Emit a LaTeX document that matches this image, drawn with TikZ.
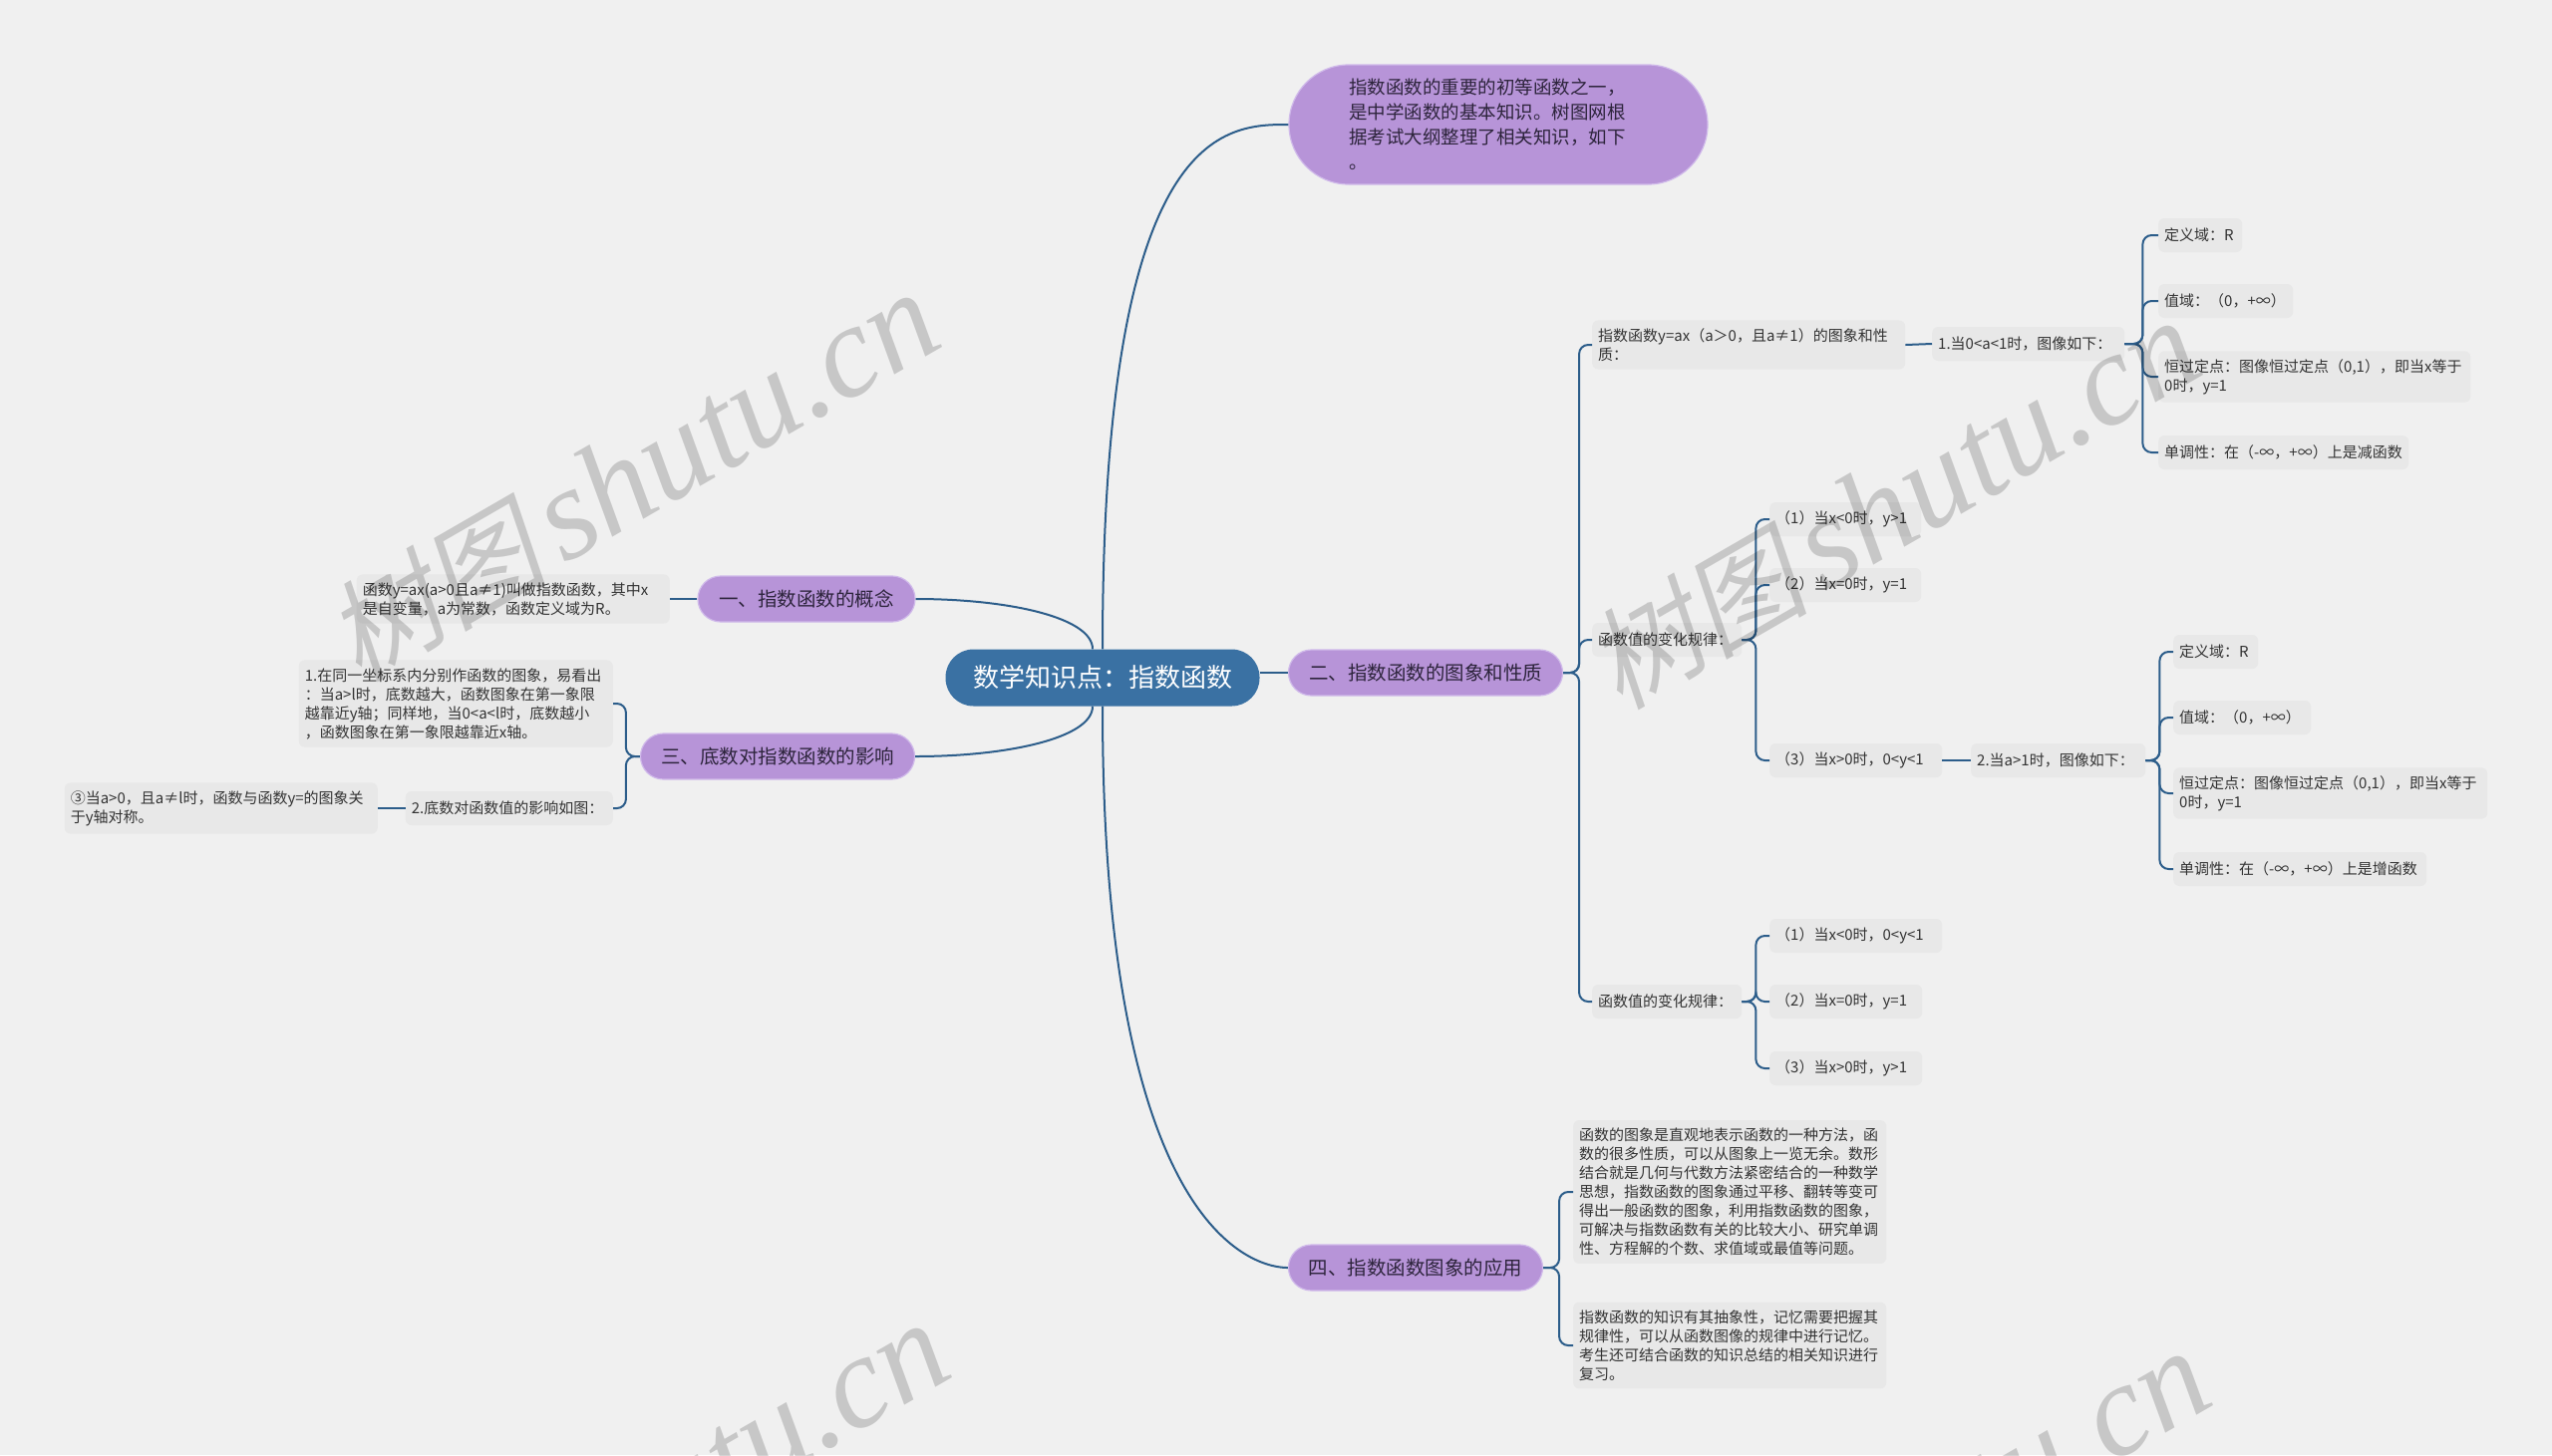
\documentclass[tikz,border=0pt]{standalone}
\usepackage{fontspec}
\setmainfont{Noto Sans CJK SC}
\newfontfamily\wmcjk[FakeSlant=0.2]{Noto Sans CJK SC}
\newfontfamily\wmlat{Liberation Serif}
\usetikzlibrary{positioning}
\definecolor{bggray}{RGB}{240,240,240}
\definecolor{leafgray}{RGB}{232,232,232}
\definecolor{linkblue}{RGB}{44,93,138}
\definecolor{rootblue}{RGB}{58,113,163}
\definecolor{topicpurple}{RGB}{183,148,216}
\definecolor{topicedge}{RGB}{208,186,234}
\definecolor{leaftext}{RGB}{51,51,51}
\definecolor{topictext}{RGB}{45,36,60}

\begin{document}
\begin{tikzpicture}[x=1pt, y=-1pt,
  rootbox/.style={fill=rootblue, text=white, rounded corners=28pt, minimum width=315pt, minimum height=57pt, font=\fontsize{26}{30}\selectfont},
  topicbox/.style={fill=topicpurple, draw=topicedge, line width=1.2pt, text=topictext, rounded corners=23pt, minimum height=46pt, font=\fontsize{19.5}{24}\selectfont},
  leafbox/.style={fill=leafgray, text=leaftext, rounded corners=6pt, inner xsep=6pt, inner ysep=8pt, minimum height=34pt, align=left, font=\fontsize{15}{19}\selectfont},
  linkline/.style={draw=linkblue, line width=2pt, rounded corners=9pt},
  wmark/.style={text=black, text opacity=0.17, inner sep=0pt}]
  \useasboundingbox (0,0) rectangle (2560,1460);
  \fill[bggray] (0,0) rectangle (2560,1460);

  \node[rootbox] (root) at (1106,680) {数学知识点：指数函数};
  \node[topicbox, minimum width=420pt, minimum height=120pt, rounded corners=60pt, text width=300pt, align=left, font=\fontsize{18.5}{25}\selectfont] (intro) at (1503,125) {指数函数的重要的初等函数之一，\\是中学函数的基本知识。树图网根\\据考试大纲整理了相关知识，如下\\。};
  \node[topicbox, minimum width=218pt] (t1) at (809,601) {一、指数函数的概念};
  \node[topicbox, minimum width=275pt] (t2) at (1430,675) {二、指数函数的图象和性质};
  \node[topicbox, minimum width=275pt] (t3) at (780,759) {三、底数对指数函数的影响};
  \node[topicbox, minimum width=255pt] (t4) at (1420,1272) {四、指数函数图象的应用};

  \node[leafbox, anchor=west, text width=302pt] (a) at (1597,346) {指数函数y=ax（a＞0，且a≠1）的图象和性\\质：};
  \node[leafbox, anchor=west, text width=138pt] (b) at (1597,642) {函数值的变化规律：};
  \node[leafbox, anchor=west, text width=138pt] (c) at (1597,1005) {函数值的变化规律：};
  \node[leafbox, anchor=west, text width=181pt] (d) at (1938,345) {1.当0<a<1时，图像如下：};
  \node[leafbox, anchor=west, text width=72pt] (d1) at (2165,236) {定义域：R};
  \node[leafbox, anchor=west, text width=123pt] (d2) at (2165,302) {值域：（0，+∞）};
  \node[leafbox, anchor=west, text width=301pt] (d3) at (2165,378) {恒过定点：图像恒过定点（0,1），即当x等于\\0时，y=1};
  \node[leafbox, anchor=west, text width=239pt] (d4) at (2165,454) {单调性：在（-∞，+∞）上是减函数};
  \node[leafbox, anchor=west, text width=140pt] (b1) at (1775,521) {（1）当x<0时，y>1};
  \node[leafbox, anchor=west, text width=140pt] (b2) at (1775,587) {（2）当x=0时，y=1};
  \node[leafbox, anchor=west, text width=161pt] (b3) at (1775,763) {（3）当x>0时，0<y<1};
  \node[leafbox, anchor=west, text width=163pt] (e) at (1977,763) {2.当a>1时，图像如下：};
  \node[leafbox, anchor=west, text width=73pt] (e1) at (2180,654) {定义域：R};
  \node[leafbox, anchor=west, text width=126pt] (e2) at (2180,720) {值域：（0，+∞）};
  \node[leafbox, anchor=west, text width=303pt] (e3) at (2180,796) {恒过定点：图像恒过定点（0,1），即当x等于\\0时，y=1};
  \node[leafbox, anchor=west, text width=242pt] (e4) at (2180,872) {单调性：在（-∞，+∞）上是增函数};
  \node[leafbox, anchor=west, text width=161pt] (c1) at (1775,939) {（1）当x<0时，0<y<1};
  \node[leafbox, anchor=west, text width=141pt] (c2) at (1775,1005) {（2）当x=0时，y=1};
  \node[leafbox, anchor=west, text width=141pt] (c3) at (1775,1072) {（3）当x>0时，y>1};
  \node[leafbox, anchor=west, text width=302pt] (p1) at (1578,1196) {函数的图象是直观地表示函数的一种方法，函\\数的很多性质，可以从图象上一览无余。数形\\结合就是几何与代数方法紧密结合的一种数学\\思想，指数函数的图象通过平移、翻转等变可\\得出一般函数的图象，利用指数函数的图象，\\可解决与指数函数有关的比较大小、研究单调\\性、方程解的个数、求值域或最值等问题。};
  \node[leafbox, anchor=west, text width=302pt] (p2) at (1578,1350) {指数函数的知识有其抽象性，记忆需要把握其\\规律性，可以从函数图像的规律中进行记忆。\\考生还可结合函数的知识总结的相关知识进行\\复习。};

  \node[leafbox, anchor=east, text width=302pt] (g) at (672,601) {函数y=ax(a>0且a≠1)叫做指数函数，其中x\\是自变量，a为常数，函数定义域为R。};
  \node[leafbox, anchor=east, text width=303pt] (h1) at (615,706) {1.在同一坐标系内分别作函数的图象，易看出\\：当a>l时，底数越大，函数图象在第一象限\\越靠近y轴；同样地，当0<a<l时，底数越小\\，函数图象在第一象限越靠近x轴。};
  \node[leafbox, anchor=east, text width=196pt] (h2) at (615,811) {2.底数对函数值的影响如图：};
  \node[leafbox, anchor=east, text width=302pt] (h3) at (379,811) {③当a>0，且a≠l时，函数与函数y=的图象关\\于y轴对称。};

  \draw[linkline] (root.north) .. controls (root.north |- intro.west) and ([xshift=-63pt]intro.west) .. (intro.west);
  \draw[linkline] (root.south) .. controls (root.south |- t4.west) and ([xshift=-12pt]t4.west) .. (t4.west);
  \draw[linkline] (t1.east) .. controls ([xshift=92pt]t1.east) and ([xshift=-10pt,yshift=32pt]root.north) .. ([xshift=-10pt]root.north);
  \draw[linkline] (t3.east) .. controls ([xshift=92pt]t3.east) and ([xshift=-10pt,yshift=-32pt]root.south) .. ([xshift=-10pt]root.south);
  \draw[linkline] (root.east |- t2.west) -- (t2.west);

  \draw[linkline] (t2.east) -- ++(16,0) |- (a.west);
  \draw[linkline] (t2.east) -- ++(16,0) |- (b.west);
  \draw[linkline] (t2.east) -- ++(16,0) |- (c.west);
  \draw[linkline] (a.east) -- (d.west);
  \foreach \n in {d1,d2,d3,d4}
    \draw[linkline] (d.east) -- ++(18,0) |- (\n.west);
  \foreach \n in {b1,b2,b3}
    \draw[linkline] (b.east) -- ++(14,0) |- (\n.west);
  \draw[linkline] (b3.east) -- (e.west);
  \foreach \n in {e1,e2,e3,e4}
    \draw[linkline] (e.east) -- ++(14,0) |- (\n.west);
  \foreach \n in {c1,c2,c3}
    \draw[linkline] (c.east) -- ++(14,0) |- (\n.west);
  \foreach \n in {p1,p2}
    \draw[linkline] (t4.east) -- ++(16,0) |- (\n.west);

  \draw[linkline] (t1.west) -- (g.east);
  \foreach \n in {h1,h2}
    \draw[linkline] (t3.west) -- ++(-14,0) |- (\n.east);
  \draw[linkline] (h2.west) -- (h3.east);

  \begin{scope}
    \clip (0,0) rectangle (2560,1460);
    \foreach \wx/\wy/\wn in {360/686/wm1, 1625/714/wm2, 370/1720/wm3, 1635/1748/wm4}
      \node[wmark, anchor=base west, rotate=30] (\wn) at (\wx,\wy) {{\wmcjk\fontsize{111}{116}\selectfont 树图}\hspace{16pt}{\wmlat\itshape\fontsize{132}{138}\selectfont shutu.cn}};
  \end{scope}
\end{tikzpicture}
\end{document}
